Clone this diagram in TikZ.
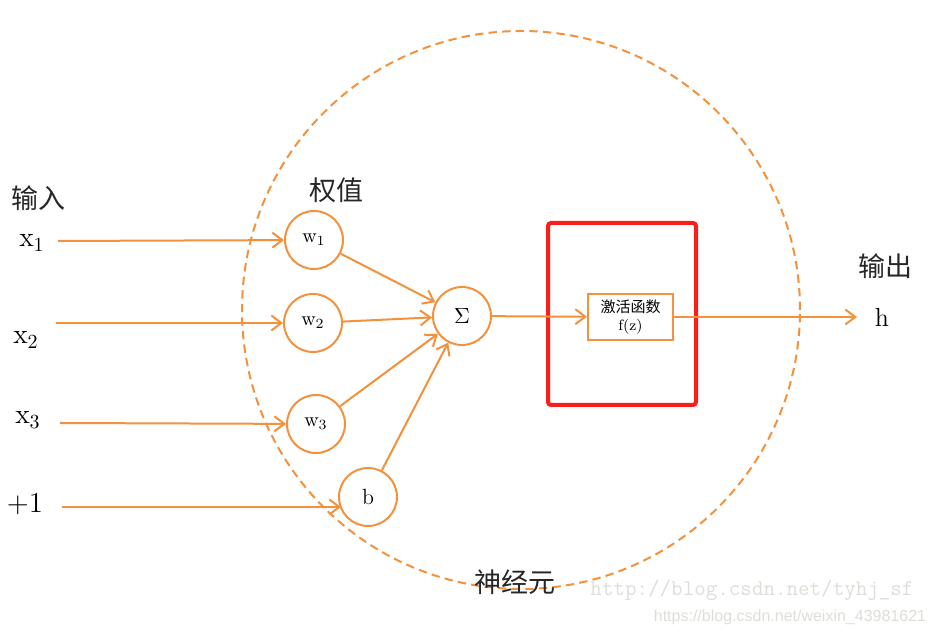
\documentclass[tikz,border=0pt]{standalone}
\usepackage{fontspec}
\usepackage{amsmath}
\newfontfamily\cjk{Noto Sans CJK SC}
\newfontfamily\wmsans{Liberation Sans}
\usetikzlibrary{arrows.meta}
\definecolor{neuron}{RGB}{243,145,60}
\definecolor{markred}{RGB}{250,30,25}
\definecolor{wmgray}{RGB}{222,222,216}
\tikzset{
	unit/.style = {circle, draw=neuron, line width=1pt, minimum size=29pt, inner sep=0pt, font=\fontsize{10}{12}\selectfont},
	link/.style = {draw=neuron, line width=1pt, -{Straight Barb[length=5pt,width=7.5pt,line width=1pt]}},
	cjklabel/.style = {font=\cjk\fontsize{13.5}{16}\selectfont, text=black!85},
	varlabel/.style = {font=\fontsize{14}{16}\selectfont}
}

\begin{document}
\begin{tikzpicture}[x=0.5pt, y=-0.5pt]
	\useasboundingbox (0,0) rectangle (934,635);
	% neuron outline
	\draw[neuron, line width=1pt, dash pattern=on 4.2pt off 2.6pt] (521,310) circle [radius=139.5pt];
	\draw[markred, line width=2pt, rounded corners=1.5pt] (548,223) rectangle (696,405);
	% labels
	\node[cjklabel] (inlab) at (38,198) {输入};
	\node[cjklabel] (wlab) at (336,190) {权值};
	\node[cjklabel] (outlab) at (885,266) {输出};
	\node[cjklabel] (cell) at (515,582) {神经元};
	% inputs
	\node[varlabel] (x1) at (32,243) {$\mathrm{x}_{1}$};
	\node[varlabel] (x2) at (26,340) {$\mathrm{x}_{2}$};
	\node[varlabel] (x3) at (28,420) {$\mathrm{x}_{3}$};
	\node[varlabel] (one) at (25,504) {$+1$};
	% units
	\node[unit] (w1) at (314,240) {$\mathrm{w}_{1}$};
	\node[unit] (w2) at (313,323) {$\mathrm{w}_{2}$};
	\node[unit] (w3) at (316,424) {$\mathrm{w}_{3}$};
	\node[unit, font=\fontsize{11}{12}\selectfont] (bias) at (368,497) {b};
	\node[unit, font=\fontsize{11}{12}\selectfont] (sum) at (462,316) {$\Sigma$};
	\node[draw=neuron, line width=1pt, minimum width=42.5pt, minimum height=23pt, inner sep=0pt, align=center,
		font=\fontsize{7.5}{9}\selectfont] (act) at (630.5,317) {{\cjk 激活函数}\\f(z)};
	\node[varlabel, font=\fontsize{13}{15}\selectfont] (h) at (882,317) {h};
	% start points
	\coordinate (s1) at (58,241);
	\coordinate (s2) at (56,323);
	\coordinate (s3) at (60,423);
	\coordinate (s4) at (62,507);
	\coordinate (e4) at (341,507);
	\coordinate (hend) at (857,317);
	% connectors
	\draw[link] (s1) -- (w1);
	\draw[link] (s2) -- (w2);
	\draw[link] (s3) -- (w3);
	\draw[link] (s4) -- (e4);
	\foreach \n in {w1,w2,w3,bias}
		\draw[link] (\n) -- (sum);
	\draw[link] (sum) -- (act);
	\draw[link] (act) -- (hend);
	% watermarks
	\node[text=wmgray, font=\ttfamily\fontsize{11.2}{13}\selectfont] (wm1) at (752,590) {http://blog.csdn.net/tyhj\_sf};
	\node[text=wmgray, font=\wmsans\fontsize{8}{9}\selectfont] (wm2) at (790,617) {https://blog.csdn.net/weixin\_43981621};
\end{tikzpicture}
\end{document}
